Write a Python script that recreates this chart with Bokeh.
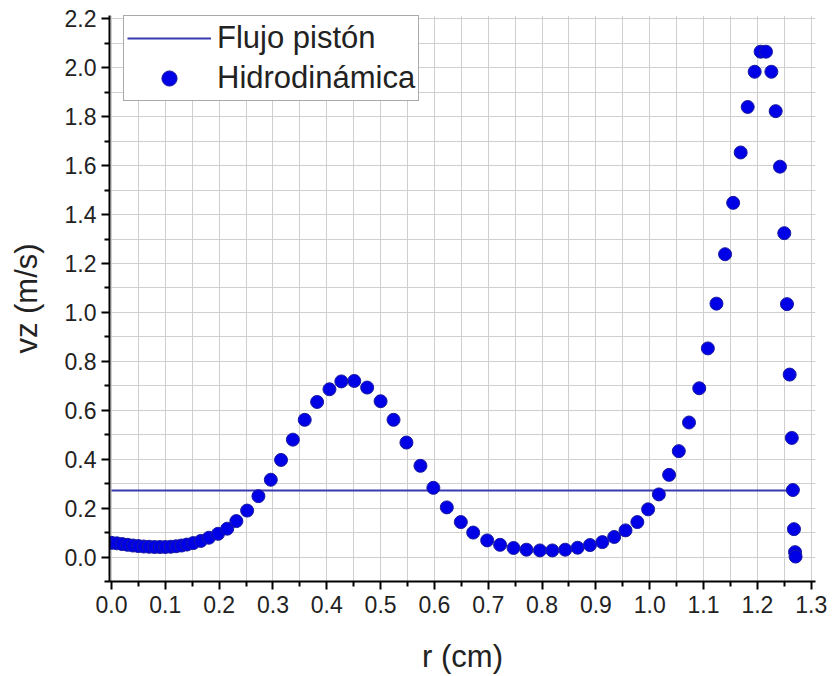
from bokeh.plotting import figure
from bokeh.models import (Range1d, FixedTicker, NumeralTickFormatter, Legend, LegendItem,
                          ColumnDataSource)
from bokeh.embed import file_html
from bokeh.resources import INLINE

# ---- data ----
r_hidro = [0.000, 0.010, 0.020, 0.030, 0.040, 0.050, 0.060, 0.070, 0.080, 0.090,
           0.100, 0.110, 0.120, 0.130, 0.140, 0.152, 0.166, 0.181, 0.198, 0.215,
           0.232, 0.252, 0.273, 0.296, 0.315, 0.337, 0.359, 0.382, 0.405, 0.427,
           0.451, 0.475, 0.500, 0.524, 0.548, 0.574, 0.598, 0.623, 0.649, 0.672,
           0.698, 0.722, 0.747, 0.771, 0.796, 0.819, 0.843, 0.866, 0.889, 0.912,
           0.934, 0.955, 0.977, 0.997, 1.017, 1.036, 1.054, 1.073, 1.092, 1.108,
           1.124, 1.140, 1.155, 1.169, 1.182, 1.195, 1.206, 1.216, 1.226, 1.234,
           1.242, 1.250, 1.255, 1.260, 1.264, 1.266, 1.268, 1.270, 1.271]
vz_hidro = [0.058, 0.056, 0.053, 0.050, 0.047, 0.045, 0.043, 0.042, 0.041, 0.041,
            0.041, 0.042, 0.044, 0.047, 0.051, 0.057, 0.066, 0.079, 0.095, 0.116,
            0.147, 0.190, 0.249, 0.316, 0.397, 0.480, 0.561, 0.634, 0.686, 0.718,
            0.720, 0.693, 0.637, 0.561, 0.468, 0.373, 0.283, 0.203, 0.143, 0.100,
            0.068, 0.050, 0.037, 0.030, 0.027, 0.027, 0.030, 0.038, 0.049, 0.061,
            0.082, 0.109, 0.143, 0.195, 0.256, 0.336, 0.433, 0.550, 0.690, 0.853,
            1.036, 1.238, 1.448, 1.654, 1.840, 1.984, 2.066, 2.066, 1.984, 1.823,
            1.596, 1.324, 1.034, 0.746, 0.487, 0.274, 0.114, 0.020, 0.002]
r_piston = [0.0, 1.27]
vz_piston = [0.272, 0.272]

x_ticks = [0.0, 0.1, 0.2, 0.3, 0.4, 0.5, 0.6, 0.7, 0.8, 0.9, 1.0, 1.1, 1.2, 1.3]
x_minor = [0.05, 0.15, 0.25, 0.35, 0.45, 0.55, 0.65, 0.75, 0.85, 0.95, 1.05, 1.15, 1.25]
y_ticks = [0.0, 0.2, 0.4, 0.6, 0.8, 1.0, 1.2, 1.4, 1.6, 1.8, 2.0, 2.2]
y_minor = [-0.1, 0.1, 0.3, 0.5, 0.7, 0.9, 1.1, 1.3, 1.5, 1.7, 1.9, 2.1]

label_piston = "Flujo pistón"
label_hidro = "Hidrodinámica"
x_title = "r (cm)"
y_title = "vz (m/s)"

FONT = "Liberation Sans"

p = figure(width=833, height=676, output_backend="svg", toolbar_location=None,
           x_range=Range1d(-0.0037, 1.308), y_range=Range1d(-0.1, 2.214),
           min_border_left=109, min_border_right=18, min_border_top=15,
           min_border_bottom=94)
p.outline_line_color = None
p.background_fill_color = "white"
p.border_fill_color = "white"

src_h = ColumnDataSource(dict(r=r_hidro, v=vz_hidro))
src_p = ColumnDataSource(dict(r=r_piston, v=vz_piston))

ln = p.line("r", "v", source=src_p, line_color="#3838b0", line_width=2)
sc = p.scatter("r", "v", source=src_h, size=13, fill_color="#0000e6",
               line_color="#1a1aa0", line_width=1)

for ax, ticks, minor in ((p.xaxis[0], x_ticks, x_minor), (p.yaxis[0], y_ticks, y_minor)):
    ax.ticker = FixedTicker(ticks=ticks, minor_ticks=minor)
    ax.formatter = NumeralTickFormatter(format="0.0")
    ax.axis_line_width = 2
    ax.axis_line_color = "black"
    ax.major_tick_line_width = 2
    ax.minor_tick_line_width = 2
    ax.major_tick_out = 8
    ax.major_tick_in = 0
    ax.minor_tick_out = 5
    ax.minor_tick_in = 0
    ax.major_label_text_font = FONT
    ax.major_label_text_font_size = "23px"
    ax.major_label_text_color = "#222222"
    ax.axis_label_text_font = FONT
    ax.axis_label_text_font_size = "31px"
    ax.axis_label_text_font_style = "normal"
    ax.axis_label_text_color = "#222222"

p.xaxis.axis_label = x_title
p.yaxis.axis_label = y_title
p.xaxis.major_label_standoff = 6
p.yaxis.major_label_standoff = 5
p.xaxis.axis_label_standoff = 23
p.yaxis.axis_label_standoff = 18

for g in (p.xgrid[0], p.ygrid[0]):
    g.grid_line_color = "#cfcfcf"
    g.grid_line_width = 1
    g.minor_grid_line_color = "#cfcfcf"
    g.minor_grid_line_width = 1

legend = Legend(items=[LegendItem(label=label_piston, renderers=[ln]),
                       LegendItem(label=label_hidro, renderers=[sc])],
                location=(14, 480))
legend.label_text_font = FONT
legend.label_text_font_size = "31px"
legend.label_text_color = "#222222"
legend.glyph_width = 84
legend.glyph_height = 38
legend.label_height = 38
legend.label_standoff = 6
legend.padding = 3
legend.spacing = 2
legend.margin = 0
legend.border_line_color = "#555555"
legend.border_line_width = 1
legend.background_fill_color = "white"
legend.background_fill_alpha = 1
p.add_layout(legend, "center")

open("out.html", "w").write(file_html(p, INLINE))
